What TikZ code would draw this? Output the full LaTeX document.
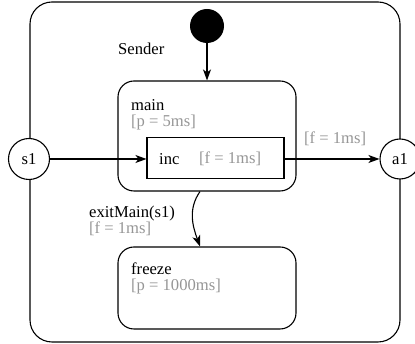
\documentclass[tikz,border=0pt]{standalone}
\usepackage{fontspec}
\setmainfont{Liberation Serif}
\usetikzlibrary{arrows.meta}
\definecolor{guardgray}{RGB}{150,150,150}
\tikzset{
  state/.style={draw, line width=1.1pt, rounded corners=16pt},
  pin/.style={draw, circle, line width=1.1pt, fill=white, inner sep=0pt},
  lbl/.style={anchor=north west, inner sep=0pt, align=left},
  guard/.style={anchor=west, inner sep=0pt, text=guardgray},
  trans/.style={line width=1.1pt, -{Stealth[length=11pt,width=8pt,inset=3pt]}}
}
\newcommand{\grd}[1]{\textcolor{guardgray}{#1}}
\begin{document}
\begin{tikzpicture}[x=1pt, y=1pt, font=\fontsize{16.6}{16}\selectfont]
      \useasboundingbox (0,0) rectangle (415,344);
      % Define nodes
      \node[state, rounded corners=22pt, minimum width=370pt, minimum height=340pt] (sender) at (215,172) {};
      \node[circle, fill=black, minimum size=34pt, inner sep=0pt] (init) at (207,318) {};
      \node[guard, text=black] (sendername) at (118,295) {Sender};
      \node[state, minimum width=178pt, minimum height=110pt] (main) at (207,208) {};
      \node[lbl] (mainname) at (131,245) {main\\\grd{[p = 5ms]}};
      \node[draw, line width=1.1pt, minimum width=137pt, minimum height=41pt] (inc) at (215.5,186) {};
      \node[guard, text=black] (incname) at (159,185) {inc};
      \node[guard] (incf) at (199,185) {[f = 1ms]};
      \node[state, minimum width=178pt, minimum height=82pt] (freeze) at (207,56) {};
      \node[lbl] (freezename) at (131,81) {freeze\\\grd{[p = 1000ms]}};
      \node[pin, minimum size=41pt] (s1) at (29,185) {s1};
      \node[pin, minimum size=40pt] (a1) at (400,185) {a1};
      \node[guard] (outf) at (304,205) {[f = 1ms]};
      \node[lbl] (exitname) at (89,138) {exitMain(s1)\\\grd{[f = 1ms]}};
      \coordinate (exitstart) at ([xshift=-7pt]main.south);
      \coordinate (exitend) at ([xshift=-7pt]freeze.north);
      % Connect nodes
      \draw[trans] (init) -- (init |- main.north);
      \draw[trans] (s1) -- (s1 -| inc.west);
      \draw[trans] (inc.east |- a1) -- (a1);
      \draw[trans] (exitstart) to[out=235, in=110] (exitend);
    \end{tikzpicture}
\end{document}
